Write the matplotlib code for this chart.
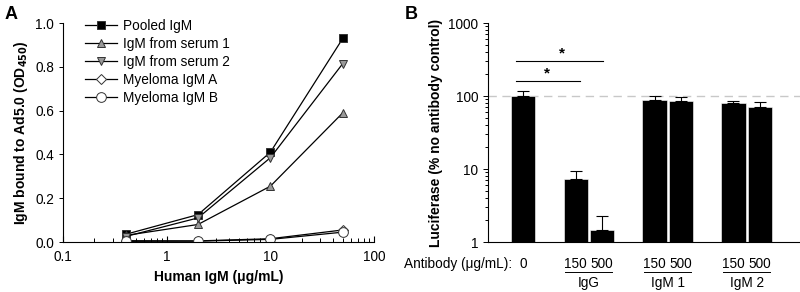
import matplotlib
matplotlib.use("Agg")
import matplotlib.pyplot as plt
from matplotlib.ticker import LogLocator, NullFormatter
import numpy as np

plt.rcParams['font.family'] = ['Liberation Sans', 'DejaVu Sans']
plt.rcParams['font.size'] = 9.8

# Panel A data
conc = [0.4, 2, 10, 50]
pooled = [0.035, 0.125, 0.41, 0.93]
serum1 = [0.030, 0.080, 0.255, 0.59]
serum2 = [0.025, 0.110, 0.385, 0.815]
myeloma_a = [0.006, 0.005, 0.015, 0.055]
myeloma_b = [0.003, 0.004, 0.012, 0.045]

# Panel B data
bar_labels = ["0", "150", "500", "150", "500", "150", "500"]
bar_values = [100, 7.2, 1.45, 88, 85, 79, 71]
bar_err = [17, 2.3, 0.85, 12, 13, 6, 13]
groups = ["IgG", "IgM 1", "IgM 2"]

fig = plt.figure(figsize=(8, 2.92), dpi=100)

# ---------- Panel A ----------
axA = fig.add_axes([0.079, 0.1712, 0.3885, 0.75])
series = [
    (pooled, 's', 'black', 'Pooled IgM'),
    (serum1, '^', '#999999', 'IgM from serum 1'),
    (serum2, 'v', '#999999', 'IgM from serum 2'),
    (myeloma_a, 'D', 'white', 'Myeloma IgM A'),
    (myeloma_b, 'o', 'white', 'Myeloma IgM B'),
]
for vals, mk, fc, lab in series:
    ms = 6 if mk != 'D' else 5.5
    if mk == 'o':
        ms = 7
    axA.plot(conc, vals, color='black', lw=0.9, marker=mk, ms=ms,
             mfc=fc, mec='#333333', mew=0.7, label=lab)
axA.set_xscale('log')
axA.set_xlim(0.1, 100)
axA.set_ylim(0, 1.0)
axA.set_yticks([0, 0.2, 0.4, 0.6, 0.8, 1.0])
axA.set_yticklabels(['0.0', '0.2', '0.4', '0.6', '0.8', '1.0'])
axA.set_xticks([0.1, 1, 10, 100])
axA.set_xticklabels(['0.1', '1', '10', '100'])
axA.xaxis.set_minor_locator(LogLocator(base=10, subs=range(2, 10), numticks=20))
axA.xaxis.set_minor_formatter(NullFormatter())
axA.spines['top'].set_visible(False)
axA.spines['right'].set_visible(False)
axA.tick_params(axis='x', which='major', direction='in', length=4, width=0.8, pad=6)
axA.tick_params(axis='x', which='minor', direction='in', length=3, width=0.7)
axA.tick_params(axis='y', direction='out', length=3, width=0.7)
axA.set_xlabel('Human IgM (μg/mL)', fontweight='bold', labelpad=4, fontsize=10)
axA.set_ylabel('IgM bound to Ad5.0 (OD$_{\\mathbf{450}}$)', fontweight='bold', fontsize=10)
axA.legend(loc='upper left', bbox_to_anchor=(0.03, 1.075), frameon=False,
           handlelength=2.35, handletextpad=0.45, labelspacing=0.3, fontsize=9.8)
fig.text(0.006, 0.98, 'A', fontsize=13, fontweight='bold', va='top')

# ---------- Panel B ----------
axB = fig.add_axes([0.61, 0.1712, 0.39, 0.75])
xpos = [0, 2, 3, 5, 6, 8, 9]
axB.bar(xpos, bar_values, width=0.92, color='black', edgecolor='white', lw=0.4,
        log=True, zorder=2)
axB.errorbar(xpos, bar_values, yerr=[np.zeros(len(bar_err)), bar_err],
             fmt='none', ecolor='black', elinewidth=0.8, capsize=4.5,
             capthick=0.8, zorder=3)
axB.set_yscale('log')
axB.set_ylim(1, 1000)
axB.set_xlim(-1.33, 10.53)
axB.axhline(100, color='#c8c8c8', lw=1.0, ls=(0, (6, 4)), zorder=1)
axB.set_yticks([1, 10, 100, 1000])
axB.set_yticklabels(['1', '10', '100', '1000'])
axB.set_xticks([])
axB.spines['top'].set_visible(False)
axB.spines['right'].set_visible(False)
axB.tick_params(axis='y', which='both', direction='out', width=0.7)
axB.tick_params(axis='y', which='major', length=3.5)
axB.tick_params(axis='y', which='minor', length=2.5)
axB.set_ylabel('Luciferase (% no antibody control)', fontweight='bold', fontsize=10)

# significance
axB.plot([-0.27, 3.04], [300, 300], color='black', lw=0.8, clip_on=False)
axB.plot([-0.27, 2.17], [160, 160], color='black', lw=0.8, clip_on=False)
axB.text(1.5, 310, '*', ha='center', va='bottom', fontsize=11, fontweight='bold')
axB.text(0.9, 165, '*', ha='center', va='bottom', fontsize=11, fontweight='bold')

# x labels
trans = axB.get_xaxis_transform()
ylab = -0.1
for x, lab in zip(xpos, bar_labels):
    axB.text(x, ylab, lab, transform=trans, ha='center', va='center', fontsize=9.8)
axB.text(-0.42, ylab, 'Antibody (μg/mL):', transform=trans, ha='right',
         va='center', fontsize=9.8)
for i, g in enumerate(groups):
    c = (xpos[1 + 2 * i] + xpos[2 + 2 * i]) / 2
    axB.plot([c - 0.9, c + 0.9], [-0.137, -0.137], transform=trans,
             color='black', lw=0.7, clip_on=False)
    axB.text(c, -0.185, g, transform=trans, ha='center', va='center', fontsize=9.8)
fig.text(0.506, 0.98, 'B', fontsize=13, fontweight='bold', va='top')

fig.savefig('out.png', dpi=100)
